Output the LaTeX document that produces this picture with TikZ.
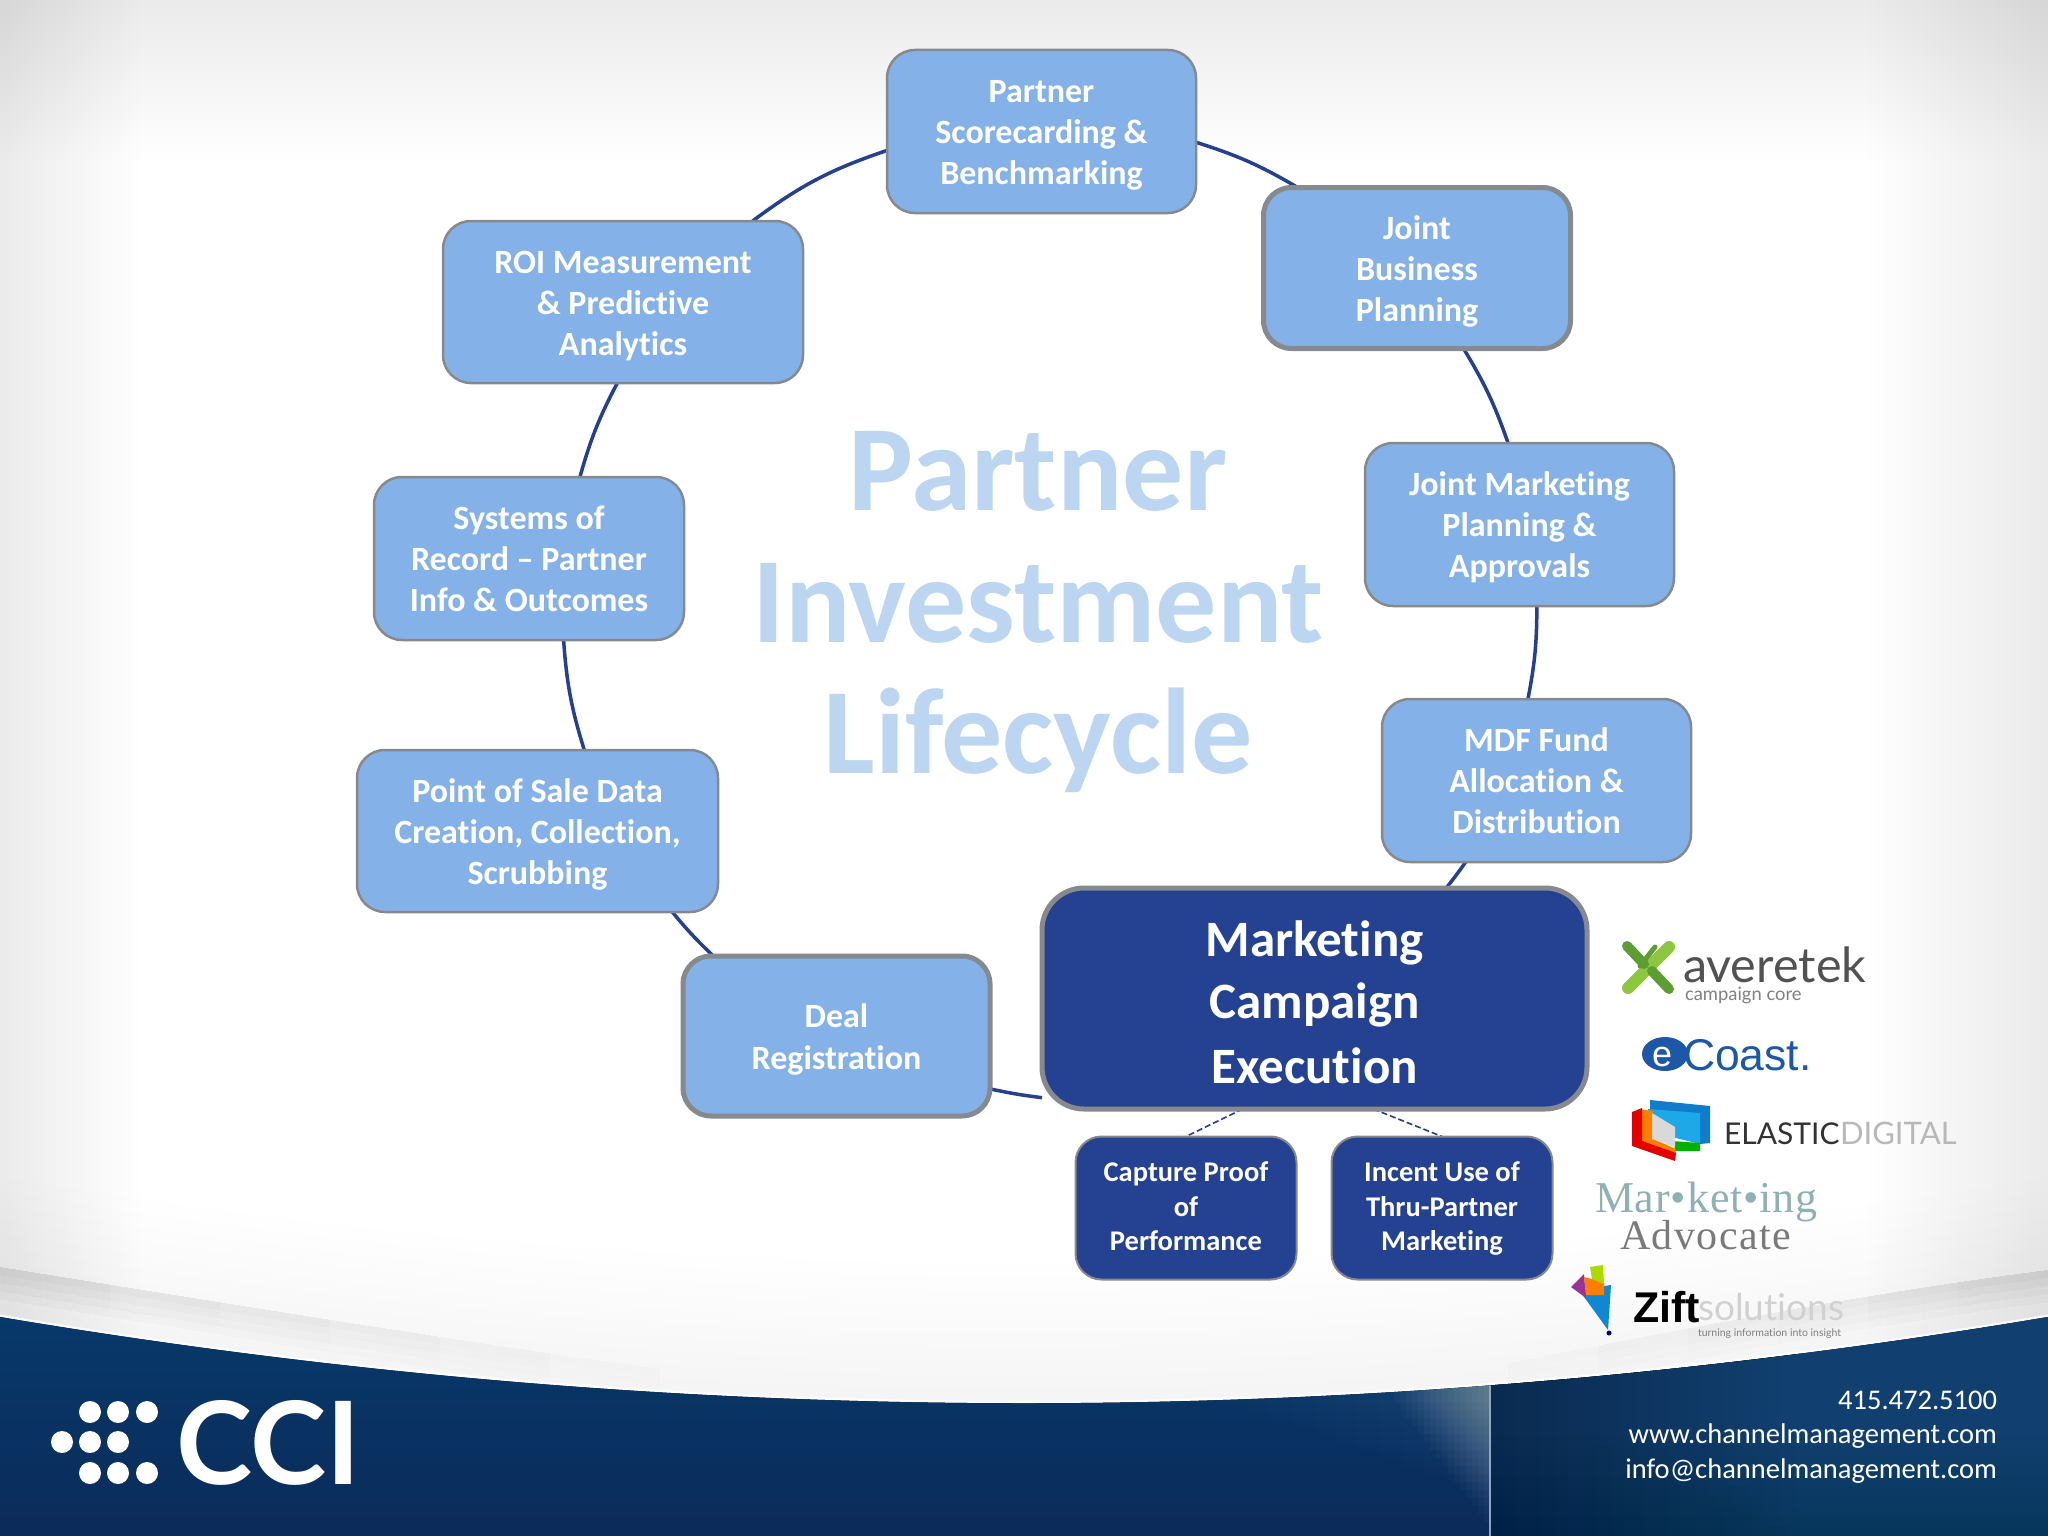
\documentclass[tikz,border=0pt]{standalone}
\usepackage{fontspec}
\setmainfont[Ligatures=NoCommon]{Carlito}
\newfontfamily\logosans[Ligatures=NoCommon]{Lato}
\newfontfamily\logoser{Liberation Serif}
\newfontfamily\logoaria{Liberation Sans}
\definecolor{boxlight}{HTML}{84B1E8}
\definecolor{boxdark}{HTML}{254192}
\definecolor{boxedge}{HTML}{868A8E}
\definecolor{ringc}{HTML}{24408E}
\definecolor{titlec}{HTML}{BCD6F2}
\definecolor{navytop}{HTML}{07396A}
\definecolor{navybot}{HTML}{0B2B5A}
\definecolor{panell}{HTML}{0A2A50}
\definecolor{panelr}{HTML}{114070}
\definecolor{avl}{HTML}{8DC63F}
\definecolor{avd}{HTML}{5C9E31}
\definecolor{ecb}{HTML}{1D57A8}
\definecolor{matl}{HTML}{8FB0B5}
\pgfdeclarelayer{bg}\pgfdeclarelayer{lines}
\pgfsetlayers{bg,lines,main}
\newcommand\tstrut{\rule[-.24em]{0pt}{1.21em}}
\newcommand\hstrut{\rule[-.24em]{0pt}{1.32em}}
\newcommand\sstrut{\rule[-.24em]{0pt}{1.06em}}
\newcommand\navycurve{(0,1317) .. controls (683,1432) and (1365,1432) .. (2048,1317) -- (2048,1536) -- (0,1536) -- cycle}
\tikzset{
  boxbase/.style={rectangle,rounded corners=28pt,inner sep=0pt,outer sep=0pt,align=center,text=white,font=\fontsize{34}{41}\selectfont\bfseries},
  lightbox/.style={boxbase,fill=boxlight,draw=boxedge,line width=2.5pt},
  lightthick/.style={lightbox,line width=5pt},
  hero/.style={boxbase,fill=boxdark,draw=boxedge,line width=5pt,rounded corners=42pt,font=\fontsize{51}{61.5}\selectfont\bfseries},
  subbox/.style={boxbase,fill=boxdark,draw=boxedge,line width=2pt,rounded corners=26pt,font=\fontsize{28.5}{34.3}\selectfont\bfseries},
  ring/.style={draw=ringc,line width=3.5pt},
  subline/.style={draw=ringc,line width=1.6pt,dash pattern=on 6pt off 3pt},
  lbl/.style={inner sep=0pt,outer sep=0pt,anchor=base west},
  tight/.style={inner sep=0pt,outer sep=0pt,anchor=base},
  veil/.style={fill=black,fill opacity=0.005,draw=none},
  bigtitle/.style={tight,text=titlec,font=\fontsize{122}{131}\selectfont\bfseries},
}
\begin{document}
\begin{tikzpicture}[x=1pt,y=-1pt]
\useasboundingbox (0,0) rectangle (2048,1536);
\begin{pgfonlayer}{bg}
\fill[white] (0,0) rectangle (2048,1536);
% vignette
\foreach \k [evaluate=\k as \h using int(\k*8)] in {1,...,20}{\path[veil] (0,0) rectangle (2048,\h);}
\foreach \k [evaluate=\k as \h using int(\k*7)] in {1,...,20}{\path[veil] (0,0) rectangle (\h,1400);}
\foreach \k [evaluate=\k as \h using int(2048-\k*9)] in {1,...,20}{\path[veil] (\h,0) rectangle (2048,1400);}
% bottom haze
\foreach \k [evaluate=\k as \sa using int(1317-\k*14), evaluate=\k as \sb using int(1432-\k*14)] in {1,...,10}{
  \path[veil] (0,\sa) .. controls (683,\sb) and (1365,\sb) .. (2048,\sa) -- (2048,1536) -- (0,1536) -- cycle;}
% swoosh bands
\foreach \ii [evaluate=\ii as \xe using int(\ii*110)] in {1,...,6}{
 \foreach \jj [evaluate=\jj as \wd using int(\jj*16)] in {1,...,4}{
  \begin{scope}
  \clip (0,1267) .. controls (300,1315) and (600,1365) .. (900,1400) -- (0,1400) -- cycle;
  \clip (0,1200) rectangle (\xe,1420);
  \draw[black,draw opacity=0.0045,line width=\wd pt] (0,1267) .. controls (300,1315) and (600,1365) .. (900,1400);
  \end{scope}
 }
}
\foreach \ii [evaluate=\ii as \xe using int(2048-\ii*90)] in {1,...,6}{
 \foreach \jj [evaluate=\jj as \wd using int(\jj*16)] in {1,...,4}{
  \begin{scope}
  \clip (2048,1270) .. controls (1850,1295) and (1650,1335) .. (1400,1385) -- (2048,1400) -- cycle;
  \clip (\xe,1200) rectangle (2048,1420);
  \draw[black,draw opacity=0.0025,line width=\wd pt] (2048,1270) .. controls (1850,1295) and (1650,1335) .. (1400,1385);
  \end{scope}
 }
}
% navy
\draw[white,line width=5pt,draw opacity=0.8] (0,1317) .. controls (683,1432) and (1365,1432) .. (2048,1317);
\fill[top color=navytop,bottom color=navybot] \navycurve;
\begin{scope}
\clip \navycurve;
\fill[left color=panell,right color=panelr] (1490,1300) rectangle (1800,1536);
\fill[panelr] (1800,1300) rectangle (2048,1536);
\foreach \k [evaluate=\k as \ya using int(1536-\k*10)] in {1,...,10}{\fill[black,fill opacity=0.012] (1490,\ya) rectangle (2048,1536);}
\foreach \k [evaluate=\k as \xa using int(1490-\k*6), evaluate=\k as \ya using int(1530-\k*8)] in {1,...,16}{\fill[white,fill opacity=0.024] (\xa,1370) rectangle (1489,\ya);}
\foreach \k [evaluate=\k as \xa using int(1490-\k*22), evaluate=\k as \ya using int(1500-\k*8)] in {1,...,12}{\fill[white,fill opacity=0.007] (\xa,1370) rectangle (1489,\ya);}
\draw[color=white!55!navytop,line width=2pt] (1490,1300) -- (1490,1536);
\end{scope}
\end{pgfonlayer}

% title
\node[bigtitle] (t1) at (1038,510) {Partner};
\node[bigtitle] (t2) at (1038,642) {Investment};
\node[bigtitle] (t3) at (1038,773) {Lifecycle};

% nodes
\node[lightbox,minimum width=309pt,minimum height=163pt] (partner) at (1041.5,131.5) {\tstrut Partner\\Scorecarding \&\\Benchmarking\tstrut};
\node[lightthick,minimum width=307pt,minimum height=161pt] (jbp) at (1417,268) {\tstrut Joint\\Business\\Planning\tstrut};
\node[lightbox,minimum width=309pt,minimum height=163pt] (jmp) at (1519.5,524.5) {\tstrut Joint Marketing\\Planning \&\\Approvals\tstrut};
\node[lightbox,minimum width=309pt,minimum height=163pt] (mdf) at (1536.5,780.5) {\tstrut MDF Fund\\Allocation \&\\Distribution\tstrut};
\node[hero,minimum width=545pt,minimum height=221pt] (mce) at (1314.5,998.5) {\hstrut Marketing\\Campaign\\Execution\hstrut};
\node[lightthick,minimum width=307pt,minimum height=160pt] (deal) at (836.5,1036) {\tstrut Deal\\Registration\tstrut};
\node[lightbox,minimum width=361pt,minimum height=162pt] (pos) at (537.5,831) {\tstrut Point of Sale Data\\Creation, Collection,\\Scrubbing\tstrut};
\node[lightbox,minimum width=310pt,minimum height=163pt] (sys) at (529,558.5) {\tstrut Systems of\\Record -- Partner\\Info \& Outcomes\tstrut};
\node[lightbox,minimum width=360pt,minimum height=162pt] (roi) at (623,302) {\tstrut ROI Measurement\\\& Predictive\\Analytics\tstrut};
\node[subbox,minimum width=221pt,minimum height=143pt] (cap) at (1186,1208) {\sstrut Capture Proof\\of\\Performance\sstrut};
\node[subbox,minimum width=221pt,minimum height=143pt] (inc) at (1442,1208) {\sstrut Incent Use of\\Thru-Partner\\Marketing\sstrut};

% connectors
\begin{pgfonlayer}{lines}
\draw[ring] (partner.-4.3) to[bend left=6.5] (jbp.146.2);
\draw[ring] (jbp.-60.9) to[bend left=6] (jmp.98.4);
\draw[ring] (jmp.-78.6) to[bend left=5.5] (mdf.96.6);
\draw[ring] (mdf.-131.7) to[bend left=1.6] (mce.40);
\draw[ring] (mce.-160.75) to[bend left=2.5] (deal.-19.4);
\draw[ring] (deal.147.8) to[bend left=3.4] (pos.-31.6);
\draw[ring] (pos.60.4) to[bend left=6.6] (sys.-67.4);
\draw[ring] (sys.58) to[bend left=6] (roi.-94.2);
\draw[ring] (roi.32.1) to[bend left=9.1] (partner.-173.9);
\draw[subline] (mce.-123.2) -- (cap.north);
\draw[subline] (mce.-62.1) -- (inc.north);
\end{pgfonlayer}

% logos: averetek
\draw[line width=12pt,line cap=round,color=avl] (1669,947) -- (1628,988);
\draw[line width=10pt,line cap=round,color=avd] (1627,946) -- (1644,964);
\draw[line width=10pt,line cap=round,color=avd] (1652,971) -- (1669,989);
\draw[line width=5pt,line cap=round,color=avd] (1655,947) -- (1640,966);
\node[lbl,text=black!68,font=\logosans\fontsize{48.5}{48.5}\selectfont] (avt) at (1683,982) {averetek};
\node[lbl,text=black!50,font=\logosans\fontsize{18.4}{18.4}\selectfont] (avc) at (1685,1000) {campaign core};
% ecoast
\fill[color=ecb] (1665,1054) ellipse (23pt and 17pt);
\node[tight,text=white,font=\logoaria\fontsize{36}{36}\selectfont] (ece) at (1662,1066) {e};
\node[lbl,text=ecb,font=\logoaria\fontsize{44.5}{44.5}\selectfont] (eco) at (1683,1070) {Coast.};
% elastic
\begin{scope}[shift={(8,1)}]
\fill[color=cyan!60!blue] (1642,1099) -- (1702,1105) -- (1702,1142) -- (1692,1143) -- (1642,1112) -- cycle;
\fill[color=cyan!90!blue!90!white] (1640,1108) -- (1692,1112) -- (1692,1143) -- (1640,1130) -- cycle;
\fill[color=orange] (1630,1108) -- (1645,1110) -- (1645,1138) -- (1668,1148) -- (1668,1152) -- (1630,1142) -- cycle;
\fill[color=red!90!black] (1624,1111) -- (1634,1107) -- (1634,1140) -- (1668,1152) -- (1667,1160) -- (1624,1145) -- cycle;
\fill[color=green!70!black] (1664,1140) -- (1692,1142) -- (1692,1150) -- (1668,1150) -- cycle;
\fill[color=black!15] (1644,1112) -- (1667,1126) -- (1667,1146) -- (1644,1138) -- cycle;
\end{scope}
\node[lbl,text=black!80,font=\logosans\fontsize{30}{30}\selectfont] (ela) at (1724,1144) {ELASTIC};
\node[lbl,text=black!28,font=\logosans\fontsize{31}{31}\selectfont] (dig) at (1840,1144) {DIGITAL};
% marketing advocate
\node[lbl,text=matl,font=\logoser\fontsize{44}{44}\selectfont\addfontfeature{LetterSpace=2}] (mar) at (1595,1212) {Mar•ket•ing};
\node[lbl,text=black!52,font=\logoser\fontsize{42}{42}\selectfont\addfontfeature{LetterSpace=3.6}] (adv) at (1620,1249) {Advocate};
% zift
\begin{scope}[shift={(4,0)}]
\fill[color=cyan!70!blue] (1575,1290) -- (1607,1285) -- (1604,1330) -- cycle;
\fill[color=violet!80!white] (1567,1287) -- (1580,1274) -- (1582,1298) -- cycle;
\fill[color=orange] (1580,1277) -- (1600,1282) -- (1600,1295) -- (1582,1295) -- cycle;
\fill[color=lime!70!olive] (1586,1267) -- (1599,1265) -- (1600,1284) -- (1588,1279) -- cycle;
\fill[color=blue!50!black] (1605,1333) circle (2.5pt);
\end{scope}
\node[lbl,text=black,font=\logoaria\bfseries\fontsize{43}{43}\selectfont] (zif) at (1633,1322) {Zift};
\node[lbl,text=black!18,font=\logosans\fontsize{37}{37}\selectfont] (sol) at (1698,1320) {solutions};
\node[lbl,text=black!50,font=\logosans\fontsize{10.5}{10.5}\selectfont] (tin) at (1698,1336) {turning information into insight};

% CCI
\foreach \p in {90,118,147}{\fill[white] (\p,1412) circle (11pt);}
\foreach \p in {62,90,118}{\fill[white] (\p,1442) circle (11pt);}
\foreach \p in {90,118,147}{\fill[white] (\p,1473) circle (11pt);}
\node[lbl,text=white,font=\logosans\bfseries\fontsize{115}{115}\selectfont] (cci) at (176,1484) {CCI};
% contact
\node[inner sep=0pt,outer sep=0pt,anchor=east,align=right,text=white,font=\fontsize{28.5}{34.2}\selectfont] (contact) at (1997,1437) {415.472.5100\\www.channelmanagement.com\\info@channelmanagement.com};
\end{tikzpicture}
\end{document}
